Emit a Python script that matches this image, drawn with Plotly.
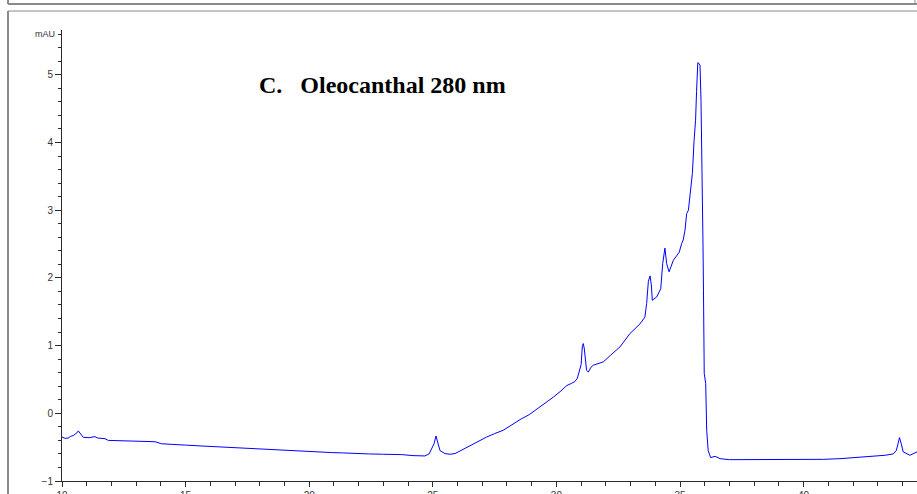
import plotly.graph_objects as go

# Retention time (min) and absorbance (mAU)
time_min = [10.0, 10.12, 10.25, 10.35, 10.45, 10.6, 10.66, 10.75, 10.86, 11.1, 11.33, 11.45, 11.74, 11.87,
            12.3, 12.8, 13.3, 13.76, 14.03, 14.5, 15.0, 15.5, 16.0, 16.46, 17.0, 17.5, 18.0,
            18.5, 19.16, 19.7, 20.3, 20.9, 21.35, 21.85, 22.4, 23.0, 23.74, 24.2, 24.68,
            24.85, 24.95, 25.05, 25.13, 25.2, 25.29, 25.49, 25.7, 25.9, 26.1, 26.5, 26.85,
            27.18, 27.5, 27.85, 28.2, 28.53, 28.9, 29.2, 29.55, 29.88, 30.15, 30.42, 30.6,
            30.75, 30.85, 30.93, 31.0, 31.05, 31.09, 31.13, 31.18, 31.22, 31.29, 31.4, 31.49,
            31.7, 31.9, 32.2, 32.57, 32.98, 33.38, 33.58, 33.65, 33.72, 33.79, 33.84, 33.88,
            34.06, 34.22, 34.3, 34.39, 34.46, 34.56, 34.73, 34.97, 35.07, 35.13, 35.2, 35.27,
            35.34, 35.4, 35.43, 35.5, 35.57, 35.63, 35.67, 35.72, 35.76, 35.81, 35.85, 35.88,
            35.9, 35.93, 35.95, 35.98, 36.04, 36.08, 36.14, 36.24, 36.42, 36.62, 37.0, 37.43,
            38.0, 38.77, 39.5, 40.12, 40.8, 41.47, 42.0, 42.5, 42.82, 43.3, 43.63, 43.75,
            43.82, 43.88, 43.95, 44.03, 44.3, 44.45, 44.59]
signal_mau = [-0.35, -0.37, -0.365, -0.34, -0.33, -0.29, -0.26, -0.31, -0.355, -0.36, -0.345, -0.365, -0.375, -0.40,
              -0.405, -0.415, -0.42, -0.42, -0.45, -0.455, -0.47, -0.48, -0.49, -0.50, -0.51, -0.52, -0.53,
              -0.535, -0.55, -0.56, -0.57, -0.58, -0.585, -0.595, -0.60, -0.605, -0.61, -0.625, -0.63,
              -0.60, -0.52, -0.45, -0.335, -0.45, -0.55, -0.595, -0.605, -0.595, -0.557, -0.47, -0.41,
              -0.35, -0.30, -0.25, -0.17, -0.093, -0.02, 0.06, 0.14, 0.24, 0.32, 0.41, 0.44,
              0.47, 0.52, 0.61, 0.72, 1.0, 1.03, 0.95, 0.70, 0.635, 0.61, 0.68, 0.71,
              0.73, 0.76, 0.86, 0.98, 1.18, 1.32, 1.42, 1.62, 1.95, 2.03, 1.9, 1.67,
              1.72, 1.84, 2.21, 2.44, 2.21, 2.09, 2.26, 2.38, 2.51, 2.56, 2.70, 2.95,
              3.0, 3.2, 3.29, 3.54, 4.03, 4.33, 4.75, 5.18, 5.17, 5.14, 4.62, 4.03,
              3.49, 2.5, 1.82, 0.59, 0.44, -0.25, -0.55, -0.655, -0.635, -0.67, -0.685, -0.685,
              -0.69, -0.685, -0.69, -0.685, -0.68, -0.67, -0.655, -0.64, -0.635, -0.62, -0.60, -0.55,
              -0.45, -0.36, -0.45, -0.57, -0.62, -0.60, -0.57]

x_ticks = [10, 15, 20, 25, 30, 35, 40]
y_ticks = [-1, 0, 1, 2, 3, 4, 5]
title_text = "C.\u00a0\u00a0\u00a0Oleocanthal 280 nm"
unit_label = "mAU"

W, H = 917, 494
ML, MR, MT, MB = 62, 0, 30, 13
PW, PH = W - ML - MR, H - MT - MB

def px(xp):
    return (xp - ML) / PW

def py(yp):
    return (H - MB - yp) / PH

axis_color = "#2a2a2a"
tick_font = dict(family="Liberation Sans, Arial, sans-serif", size=10, color="#333333")

fig = go.Figure()
fig.add_trace(go.Scatter(x=time_min, y=signal_mau, mode="lines",
                         line=dict(color="#0000ff", width=1), showlegend=False))

fig.update_layout(
    width=W, height=H,
    margin=dict(l=ML, r=MR, t=MT, b=MB, autoexpand=False),
    paper_bgcolor="white", plot_bgcolor="white",
    xaxis=dict(range=[10, 10 + PW / 24.72], tickvals=x_ticks, ticks="outside", ticklen=5,
               tickcolor=axis_color, showline=True, linecolor=axis_color, linewidth=1,
               showgrid=False, zeroline=False, tickfont=tick_font, automargin=False,
               minor=dict(dtick=1, ticks="outside", ticklen=4, tickcolor=axis_color)),
    yaxis=dict(range=[-1, -1 + PH / 67.7], tickvals=y_ticks, ticks="outside", ticklen=6,
               tickcolor=axis_color, showline=True, linecolor=axis_color, linewidth=1,
               showgrid=False, zeroline=False, tickfont=tick_font, automargin=False,
               minor=dict(dtick=0.2, tick0=0, ticks="outside", ticklen=3, tickcolor=axis_color)),
)

# unit label at top of y axis
fig.add_annotation(text=unit_label, xref="paper", yref="y", x=0, y=5.6, xanchor="right",
                   yanchor="middle", xshift=-5, showarrow=False,
                   font=dict(family="Liberation Sans, Arial, sans-serif", size=9, color="#333333"))

# title
fig.add_annotation(text="<b>" + title_text + "</b>", xref="paper", yref="paper",
                   x=px(257), y=py(85), xanchor="left", yanchor="middle", showarrow=False,
                   font=dict(family="Liberation Serif, Times New Roman, serif", size=24, color="black"))

# frames (panel borders)
frame = "#8a8a8a"
fig.add_shape(type="line", xref="paper", yref="paper", x0=px(8), x1=px(8), y0=py(11), y1=py(494),
              line=dict(color=frame, width=2))
fig.add_shape(type="line", xref="paper", yref="paper", x0=px(8), x1=px(917), y0=py(11), y1=py(11),
              line=dict(color=frame, width=1))
fig.add_shape(type="line", xref="paper", yref="paper", x0=px(8), x1=px(917), y0=py(4), y1=py(4),
              line=dict(color=frame, width=2))
fig.add_shape(type="line", xref="paper", yref="paper", x0=px(8), x1=px(8), y0=py(-2), y1=py(4),
              line=dict(color=frame, width=2))
fig.add_shape(type="line", xref="paper", yref="paper", x0=px(915), x1=px(915), y0=py(-2), y1=py(4),
              line=dict(color=frame, width=1))

# clipped tick labels of the panel above
for v in x_ticks:
    fig.add_annotation(text=str(v), xref="x", yref="paper", x=v, y=py(3), yanchor="bottom",
                       showarrow=False, font=tick_font)

fig.write_html("out.html")
